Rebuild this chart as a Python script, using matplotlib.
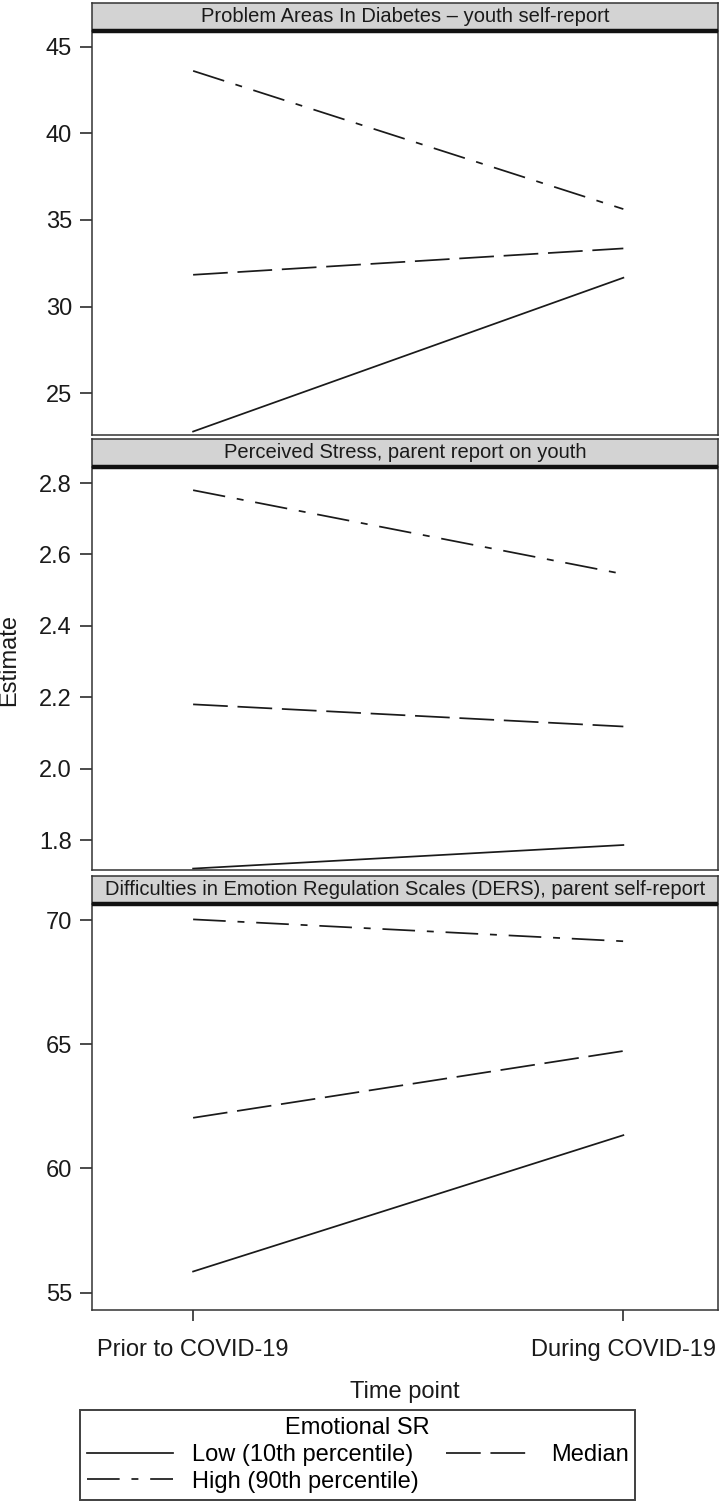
import matplotlib
matplotlib.use("Agg")
import matplotlib.pyplot as plt
from matplotlib.lines import Line2D

plt.rcParams["font.family"] = ["Liberation Sans", "DejaVu Sans"]
plt.rcParams["lines.scale_dashes"] = False

# data
time_points = ["Prior to COVID-19", "During COVID-19"]
panel_titles = [
    "Problem Areas In Diabetes \u2013 youth self-report",
    "Perceived Stress, parent report on youth",
    "Difficulties in Emotion Regulation Scales (DERS), parent self-report",
]
groups = ["Low (10th percentile)", "Median", "High (90th percentile)"]

paid_low = [22.8, 31.67]
paid_median = [31.84, 33.36]
paid_high = [43.6, 35.63]

pss_low = [1.72, 1.786]
pss_median = [2.18, 2.118]
pss_high = [2.78, 2.545]

ders_low = [55.85, 61.34]
ders_median = [62.04, 64.73]
ders_high = [70.03, 69.15]

yticks = [
    [25, 30, 35, 40, 45],
    [1.8, 2.0, 2.2, 2.4, 2.6, 2.8],
    [55, 60, 65, 70],
]
ytick_labels = [
    ["25", "30", "35", "40", "45"],
    ["1.8", "2.0", "2.2", "2.4", "2.6", "2.8"],
    ["55", "60", "65", "70"],
]
ylims = [(22.6, 45.9), (1.716, 2.845), (54.3, 70.65)]

series = [
    (paid_low, paid_median, paid_high),
    (pss_low, pss_median, pss_high),
    (ders_low, ders_median, ders_high),
]

styles = ["-", (0, (25, 7)), (0, (23.5, 8.5, 5, 8.5))]
ink = "#1a1a1a"
edge = "#333333"

W, H = 720, 1502
fig = plt.figure(figsize=(W / 100, H / 100), dpi=100)

# panel extents in pixels (top, bottom)
panels_px = [(31, 435), (467, 870), (904, 1310)]
left_px, right_px = 92, 718
strip_h = 28

x = [1, 2]
axes = []
for i, (top, bot) in enumerate(panels_px):
    ax = fig.add_axes([left_px / W, 1 - bot / H, (right_px - left_px) / W, (bot - top) / H])
    for vals, ls in zip(series[i], styles):
        ax.plot(x, vals, color=ink, lw=1.25, linestyle=ls)
    ax.set_xlim(0.765, 2.22)
    ax.set_ylim(*ylims[i])
    ax.set_yticks(yticks[i])
    ax.set_yticklabels(ytick_labels[i])
    ax.tick_params(axis="y", labelsize=17, length=8.5, width=1.1, pad=6, colors=ink)
    ax.spines["top"].set_visible(False)
    for s in ["left", "right", "bottom"]:
        ax.spines[s].set_color(edge)
        ax.spines[s].set_linewidth(1.1)
    if i < 2:
        ax.set_xticks([])
    else:
        ax.set_xticks(x)
        ax.set_xticklabels(time_points)
        ax.tick_params(axis="x", labelsize=17, length=8, width=1.1, pad=13, colors=ink)

    # strip header
    sax = fig.add_axes([left_px / W, 1 - top / H, (right_px - left_px) / W, strip_h / H])
    sax.set_facecolor("#d3d3d3")
    sax.set_xticks([])
    sax.set_yticks([])
    for s in ["left", "right", "top"]:
        sax.spines[s].set_color(edge)
        sax.spines[s].set_linewidth(1.1)
    sax.spines["bottom"].set_color("#111111")
    sax.spines["bottom"].set_linewidth(3.2)
    sax.spines["bottom"].set_capstyle("butt")
    sax.text(0.5, 0.5, panel_titles[i], ha="center", va="center",
             fontsize=14.5, color=ink, transform=sax.transAxes)
    axes.append(ax)

fig.text(9 / W, 1 - 660 / H, "Estimate", rotation=90, ha="center", va="center",
         fontsize=17, color=ink)
fig.text(405 / W, 1 - 1398 / H, "Time point", ha="center", va="baseline",
         fontsize=17, color=ink)

handles = [Line2D([], [], color=ink, lw=1.25, linestyle=ls) for ls in styles]
order = [0, 2, 1]
leg = fig.legend([handles[k] for k in order], [groups[k] for k in order],
                 loc="upper center", bbox_to_anchor=(357.5 / W, 1 - 1410 / H),
                 ncol=2, title="Emotional SR", fontsize=17, title_fontsize=17,
                 frameon=True, fancybox=False, edgecolor="#111111",
                 handlelength=3.65, handletextpad=0.8, columnspacing=1.15,
                 labelspacing=0.2, borderpad=0.3, borderaxespad=0)
leg.get_frame().set_linewidth(1.4)

fig.savefig("out.png", dpi=100)
